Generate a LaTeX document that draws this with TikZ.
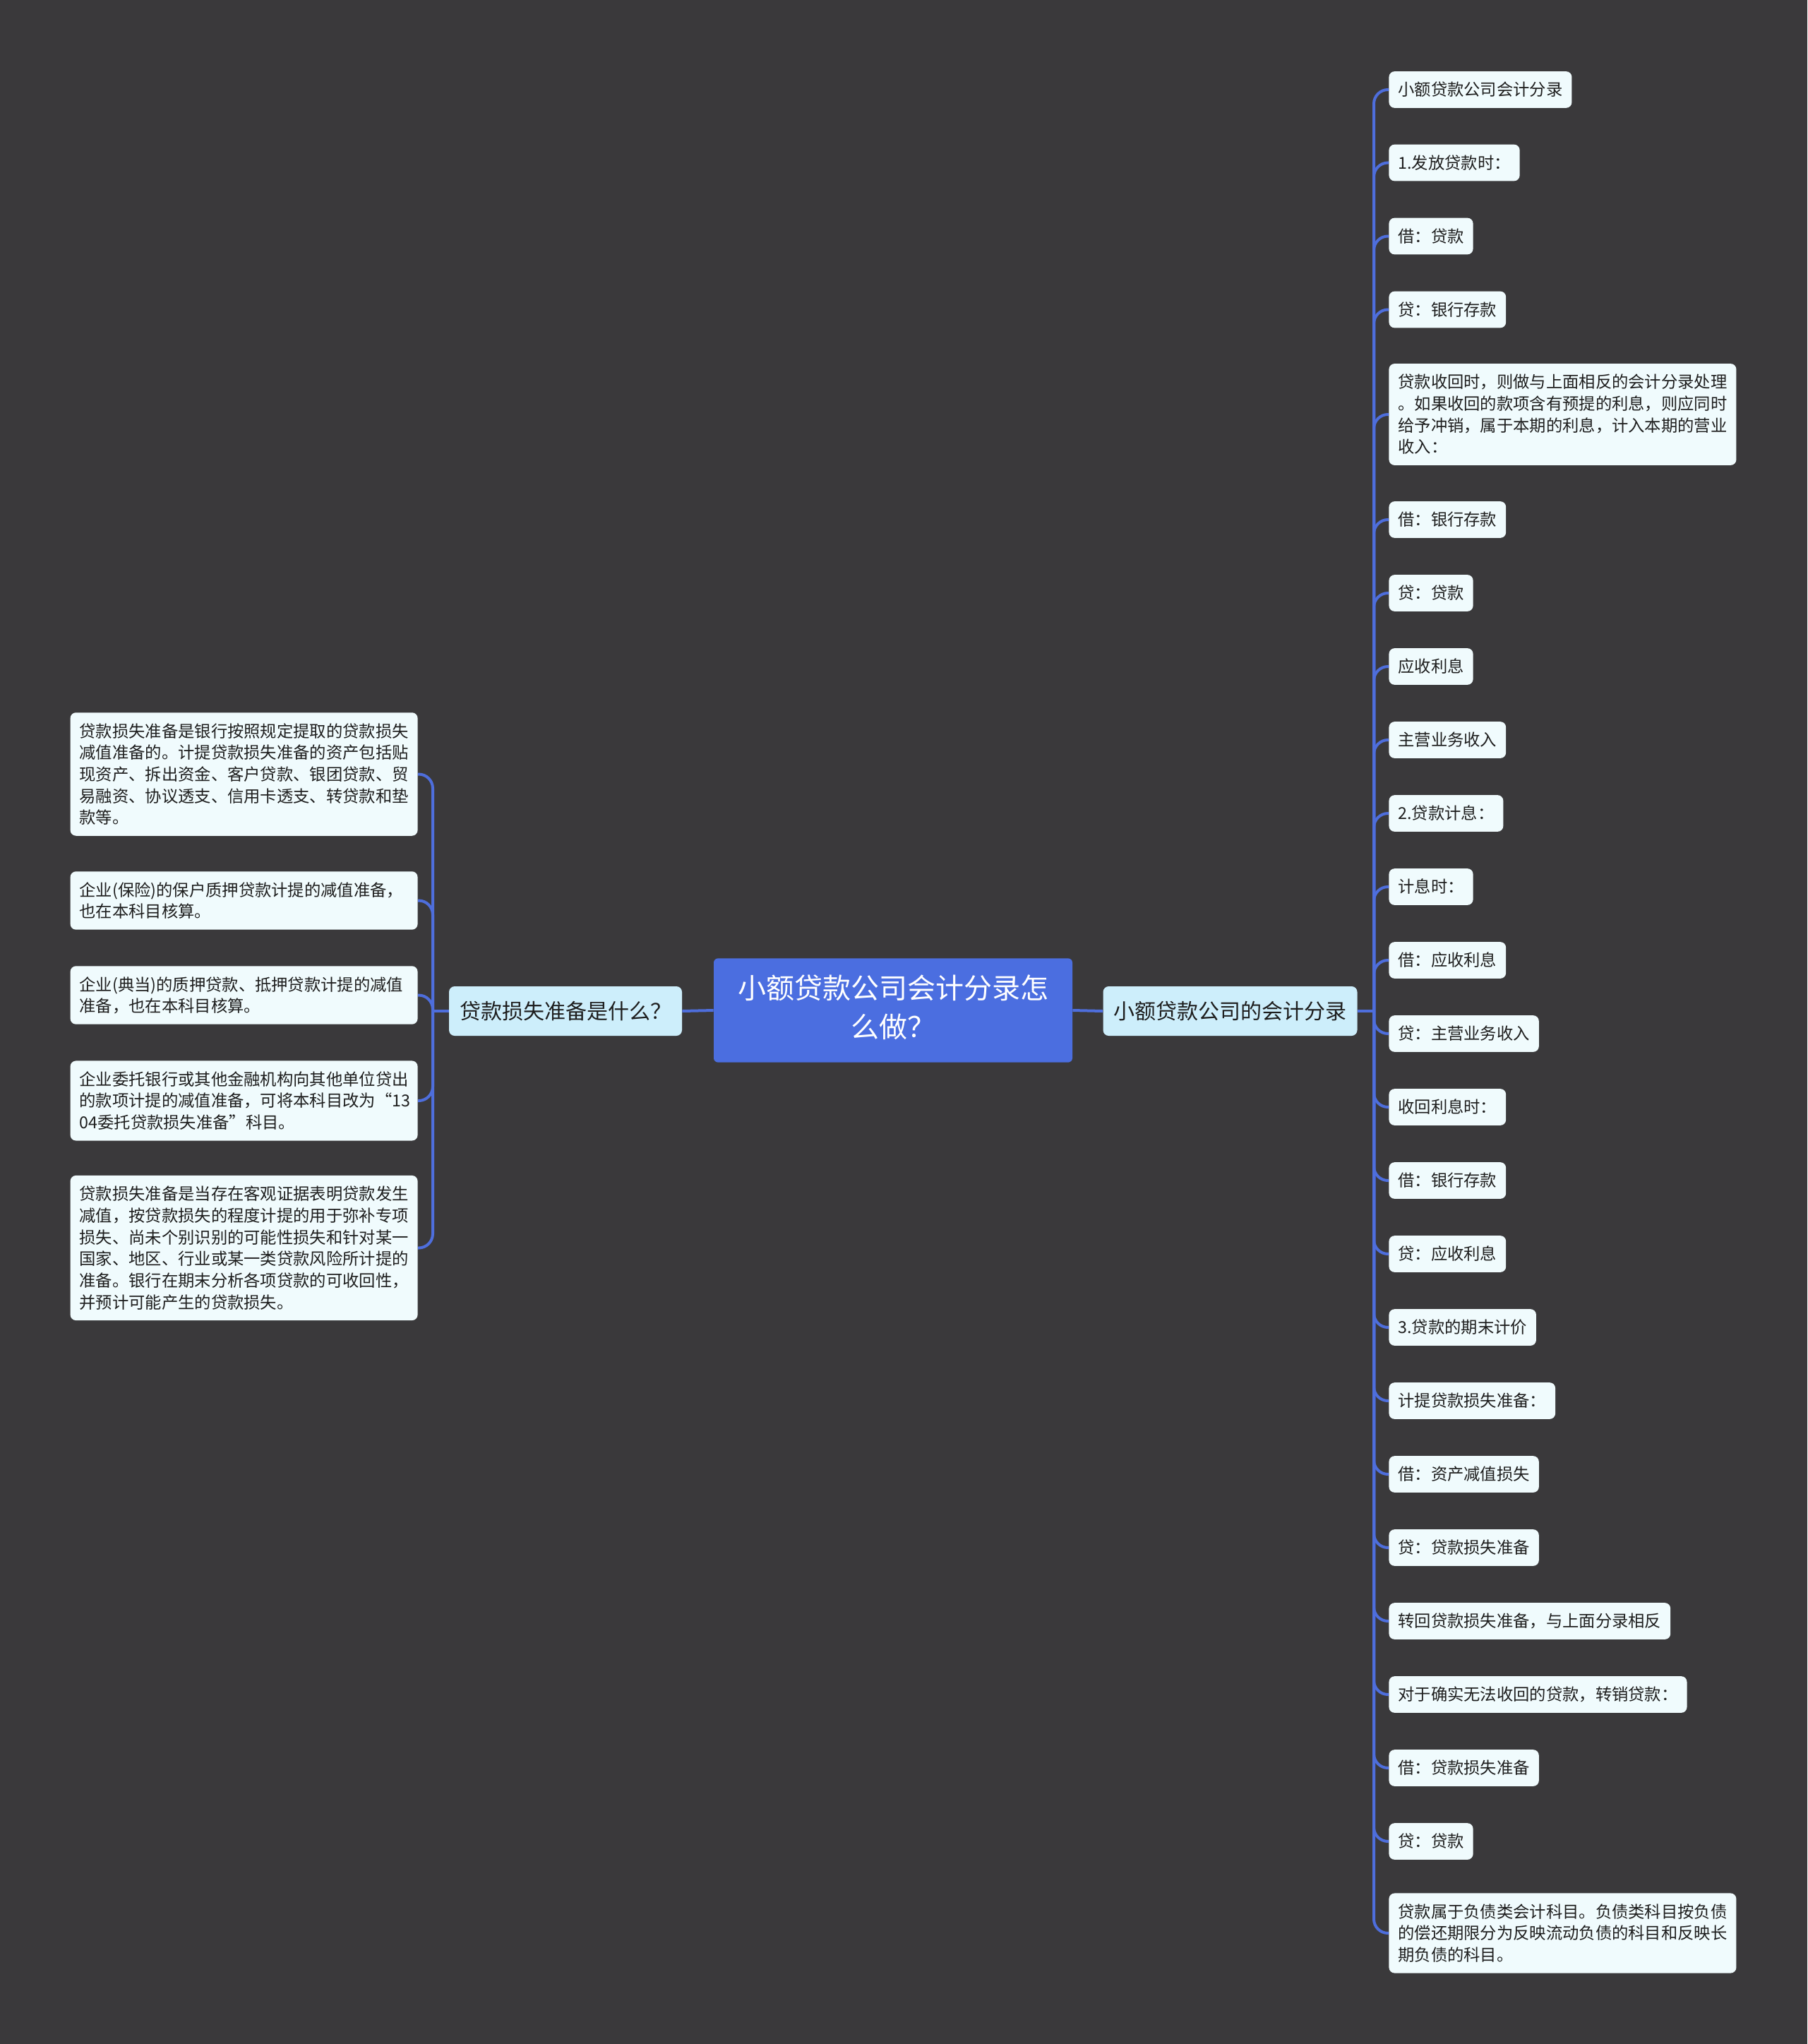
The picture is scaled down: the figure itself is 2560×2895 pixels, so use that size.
\documentclass[tikz,border=0pt]{standalone}
\usepackage{fontspec}
\newfontfamily\cjk{Noto Sans CJK SC}
\definecolor{bgc}{RGB}{58,57,59}
\definecolor{linec}{RGB}{78,110,220}
\definecolor{rootc}{RGB}{75,110,224}
\definecolor{branchc}{RGB}{205,238,251}
\definecolor{leafc}{RGB}{240,251,253}
\definecolor{txtc}{RGB}{30,30,30}
\newcommand\mystrutx{\vrule width0pt height.79\baselineskip depth.21\baselineskip\relax}
\newcommand\rootstrutA{\vrule width0pt height\dimexpr.79\baselineskip+2.75pt\relax depth.21\baselineskip\relax}
\newcommand\rootstrutB{\vrule width0pt height.79\baselineskip depth\dimexpr.21\baselineskip-2.75pt\relax\relax}
\begin{document}
\begin{tikzpicture}[x=0.5pt,y=-0.5pt,
  conn/.style={draw=linec, line width=2pt},
  curve/.style={conn, rounded corners=10pt},
  leaf/.style={fill=leafc, rounded corners=4pt, inner xsep=6.5pt, inner ysep=5.25pt, text=txtc, align=left,
    font=\cjk\fontsize{11.65pt}{15.35pt}\selectfont, execute at begin node=\mystrutx, execute at end node=\mystrutx},
  wleaf/.style={leaf, text width=233pt},
  branch/.style={fill=branchc, rounded corners=4pt, inner xsep=7.5pt, inner ysep=7.5pt, text=txtc,
    font=\cjk\fontsize{15pt}{20pt}\selectfont, execute at begin node=\mystrutx, execute at end node=\mystrutx},
  rootbox/.style={fill=rootc, rounded corners=3pt, inner xsep=17pt, inner ysep=11.75pt, text=white, align=center,
    font=\cjk\fontsize{20pt}{27.5pt}\selectfont, execute at begin node=\rootstrutA, execute at end node=\rootstrutB}
]
\fill[bgc] (0,0) rectangle (2560,2895);
\useasboundingbox (0,0) rectangle (2560,2895);

% root and branches
\node[rootbox] (root) at (1265,1431) {小额贷款公司会计分录怎\\么做？};
\node[branch] (L) at (801,1432) {贷款损失准备是什么？};
\node[branch] (R) at (1742.5,1432) {小额贷款公司的会计分录};
\coordinate (lt) at (613,1432);
\coordinate (rt) at (1946,1432);

% right leaves
\node[leaf, anchor=west] (r1) at (1967,127) {小额贷款公司会计分录};
\node[leaf, anchor=west] (r2) at (1967,230.5) {1.发放贷款时：};
\node[leaf, anchor=west] (r3) at (1967,334.5) {借：贷款};
\node[leaf, anchor=west] (r4) at (1967,438.5) {贷：银行存款};
\node[wleaf, anchor=west] (r5) at (1967,587) {贷款收回时，则做与上面相反的会计分录处理\\。如果收回的款项含有预提的利息，则应同时\\给予冲销，属于本期的利息，计入本期的营业\\收入：};
\node[leaf, anchor=west] (r6) at (1967,736) {借：银行存款};
\node[leaf, anchor=west] (r7) at (1967,840) {贷：贷款};
\node[leaf, anchor=west] (r8) at (1967,944) {应收利息};
\node[leaf, anchor=west] (r9) at (1967,1048) {主营业务收入};
\node[leaf, anchor=west] (r10) at (1967,1152) {2.贷款计息：};
\node[leaf, anchor=west] (r11) at (1967,1256) {计息时：};
\node[leaf, anchor=west] (r12) at (1967,1360) {借：应收利息};
\node[leaf, anchor=west] (r13) at (1967,1464) {贷：主营业务收入};
\node[leaf, anchor=west] (r14) at (1967,1568) {收回利息时：};
\node[leaf, anchor=west] (r15) at (1967,1672) {借：银行存款};
\node[leaf, anchor=west] (r16) at (1967,1776) {贷：应收利息};
\node[leaf, anchor=west] (r17) at (1967,1880) {3.贷款的期末计价};
\node[leaf, anchor=west] (r18) at (1967,1984) {计提贷款损失准备：};
\node[leaf, anchor=west] (r19) at (1967,2088) {借：资产减值损失};
\node[leaf, anchor=west] (r20) at (1967,2192) {贷：贷款损失准备};
\node[leaf, anchor=west] (r21) at (1967,2296) {转回贷款损失准备，与上面分录相反};
\node[leaf, anchor=west] (r22) at (1967,2400) {对于确实无法收回的贷款，转销贷款：};
\node[leaf, anchor=west] (r23) at (1967,2504) {借：贷款损失准备};
\node[leaf, anchor=west] (r24) at (1967,2608) {贷：贷款};
\node[wleaf, anchor=west] (r25) at (1967,2738) {贷款属于负债类会计科目。负债类科目按负债\\的偿还期限分为反映流动负债的科目和反映长\\期负债的科目。};

% left leaves
\node[wleaf, anchor=east] (l1) at (592,1096.5) {贷款损失准备是银行按照规定提取的贷款损失\\减值准备的。计提贷款损失准备的资产包括贴\\现资产、拆出资金、客户贷款、银团贷款、贸\\易融资、协议透支、信用卡透支、转贷款和垫\\款等。};
\node[wleaf, anchor=east] (l2) at (592,1275.5) {企业(保险)的保户质押贷款计提的减值准备，\\也在本科目核算。};
\node[wleaf, anchor=east] (l3) at (592,1409.5) {企业(典当)的质押贷款、抵押贷款计提的减值\\准备，也在本科目核算。};
\node[wleaf, anchor=east] (l4) at (592,1559) {企业委托银行或其他金融机构向其他单位贷出\\的款项计提的减值准备，可将本科目改为“13\\04委托贷款损失准备”科目。};
\node[wleaf, anchor=east] (l5) at (592,1767.5) {贷款损失准备是当存在客观证据表明贷款发生\\减值，按贷款损失的程度计提的用于弥补专项\\损失、尚未个别识别的可能性损失和针对某一\\国家、地区、行业或某一类贷款风险所计提的\\准备。银行在期末分析各项贷款的可收回性，\\并预计可能产生的贷款损失。};

% connectors
\draw[conn] (root.west) -- (L.east);
\draw[conn] (root.east) -- (R.west);
\draw[conn] (R.east) -- (rt);
\draw[conn] (L.west) -- (lt);
\foreach \i in {1,...,25} { \draw[curve] (rt) |- (r\i.west); }
\foreach \i in {1,...,5} { \draw[curve] (lt) |- (l\i.east); }
\end{tikzpicture}
\end{document}
